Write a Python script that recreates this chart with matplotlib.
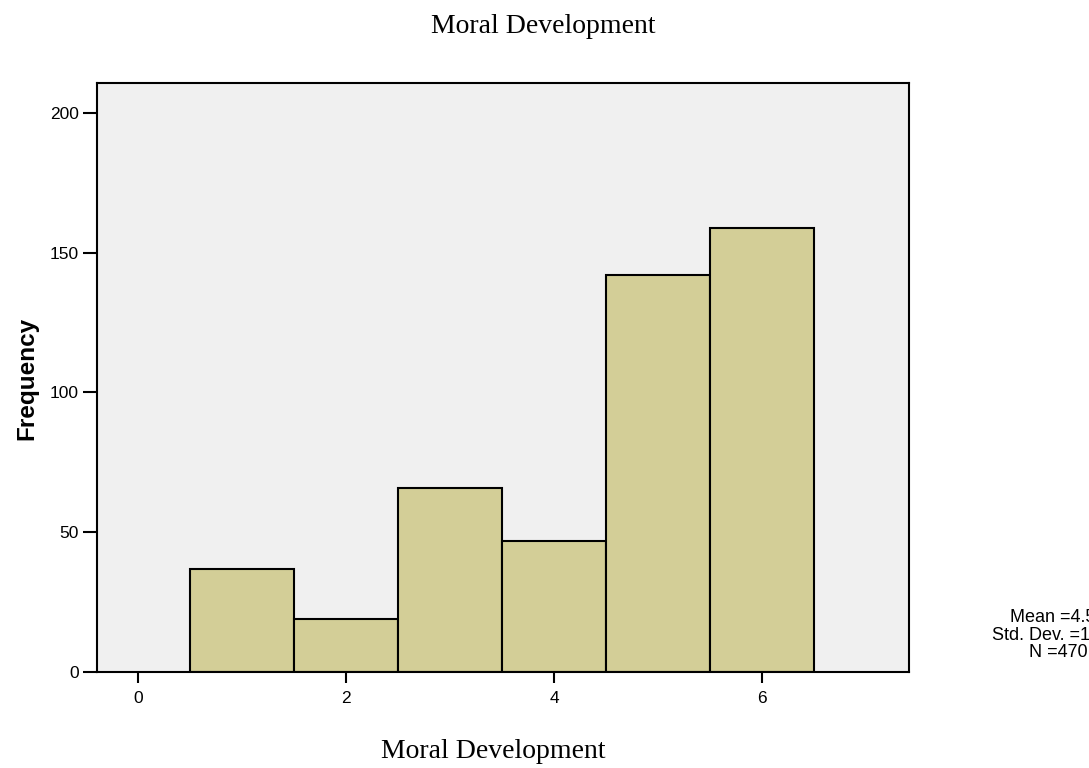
import matplotlib
matplotlib.use('Agg')
import matplotlib.pyplot as plt

# histogram bins (stage of moral development) and their counts
stages = [1, 2, 3, 4, 5, 6]
counts = [37, 19, 66, 47, 142, 159]
xticks = [0, 2, 4, 6]
yticks = [0, 50, 100, 150, 200]
stats_text = 'Mean =4.52\nStd. Dev. =1.549\nN =470'

sans = 'Liberation Sans'
serif = 'Liberation Serif'

fig = plt.figure(figsize=(10.89, 7.68), dpi=100)
ax = fig.add_axes([97 / 1089, 1 - 672 / 768, (909 - 97) / 1089, (672 - 83) / 768])
ax.set_facecolor('#F0F0F0')

ax.bar(stages, counts, width=1.0, color='#D3CE97', edgecolor='black', linewidth=1.5, zorder=2)

ax.set_xlim(-0.394, 7.413)
ax.set_ylim(0, 210.7)
ax.set_xticks(xticks)
ax.set_yticks(yticks)
ax.set_xticklabels([str(t) for t in xticks], fontfamily=sans, fontsize=12.5)
ax.set_yticklabels([str(t) for t in yticks], fontfamily=sans, fontsize=12.5)
ax.tick_params(axis='y', direction='out', length=10, width=1.5, pad=3)
ax.tick_params(axis='x', direction='out', length=8, width=1.5, pad=6)

for s in ['top', 'bottom', 'left', 'right']:
    ax.spines[s].set_linewidth(1.5)
    ax.spines[s].set_color('black')

fig.text(0.4986, 1 - 33 / 768, 'Moral Development', ha='center', va='baseline',
         fontfamily=serif, fontsize=20)
fig.text(493 / 1089, 1 - 758 / 768, 'Moral Development', ha='center', va='baseline',
         fontfamily=serif, fontsize=20)
fig.text(27 / 1089, 1 - 378 / 768, 'Frequency', ha='center', va='center', rotation=90,
         fontfamily=sans, fontsize=17.5, fontweight='bold')
# stats box sits partly past the right edge, as in the original output
fig.text(1058 / 1089, 1 - 635 / 768, stats_text, ha='center', va='center',
         multialignment='center', linespacing=1.02, fontfamily=sans, fontsize=13)

fig.savefig('out.png', dpi=100)
